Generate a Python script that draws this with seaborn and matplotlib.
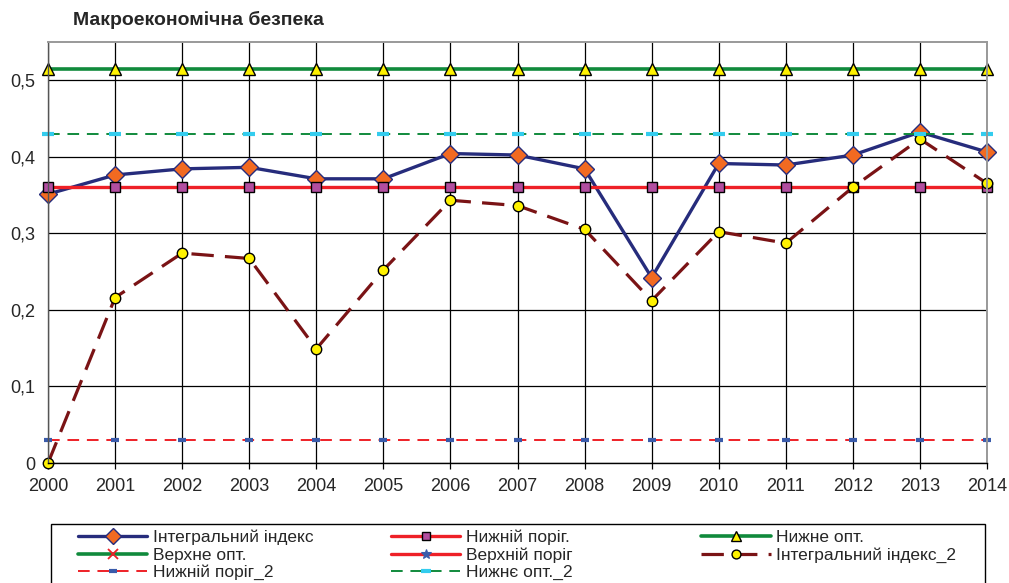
import numpy as np
import pandas as pd
import matplotlib
matplotlib.use("Agg")
import matplotlib.pyplot as plt
from matplotlib.patches import Rectangle
from matplotlib.ticker import FuncFormatter
import seaborn as sns

sns.set_theme(style="white")
plt.rcParams['font.family'] = ['Liberation Sans', 'DejaVu Sans']

# =============================
# Data
# =============================
years = [2000, 2001, 2002, 2003, 2004, 2005, 2006, 2007,
         2008, 2009, 2010, 2011, 2012, 2013, 2014]

integral_index = [0.351, 0.376, 0.384, 0.386, 0.371, 0.371, 0.404, 0.402,
                  0.384, 0.242, 0.391, 0.389, 0.402, 0.432, 0.406]
integral_index_2 = [0.0, 0.216, 0.274, 0.267, 0.149, 0.252, 0.343, 0.336,
                    0.305, 0.212, 0.302, 0.287, 0.360, 0.423, 0.365]

lower_threshold = [0.36, 0.36, 0.36, 0.36, 0.36, 0.36, 0.36, 0.36,
                   0.36, 0.36, 0.36, 0.36, 0.36, 0.36, 0.36]
lower_opt = [0.514, 0.514, 0.514, 0.514, 0.514, 0.514, 0.514, 0.514,
             0.514, 0.514, 0.514, 0.514, 0.514, 0.514, 0.514]
lower_threshold_2 = [0.03, 0.03, 0.03, 0.03, 0.03, 0.03, 0.03, 0.03,
                     0.03, 0.03, 0.03, 0.03, 0.03, 0.03, 0.03]
lower_opt_2 = [0.43, 0.43, 0.43, 0.43, 0.43, 0.43, 0.43, 0.43,
               0.43, 0.43, 0.43, 0.43, 0.43, 0.43, 0.43]
# series that only show up in the legend
upper_opt = []
upper_threshold = []

y_ticks = [0, 0.1, 0.2, 0.3, 0.4, 0.5]

labels = ["Інтегральний індекс", "Нижній поріг.", "Нижне опт.",
          "Верхне опт.", "Верхній поріг", "Інтегральний індекс_2",
          "Нижній поріг_2", "Нижнє опт._2"]

# colours
NAVY = '#262C7C'
ORANGE = '#F26A21'
RED = '#EE2027'
PURPLE = '#B24EA0'
GREEN = '#108A3C'
YELLOW = '#FFF200'
DARKRED = '#7A1315'
CYAN = '#33CCEE'
BLUE = '#3A5BAA'

# =============================
# Figure
# =============================
fig = plt.figure(figsize=(10.09, 5.83), dpi=100)
ax = fig.add_axes([0.0476, 0.2058, 0.9306, 0.7227])

handles = []

sns.lineplot(x=years, y=integral_index, ax=ax, color=NAVY, linewidth=2.4,
             marker='D', markersize=9, markerfacecolor=ORANGE,
             markeredgecolor=NAVY, markeredgewidth=1.0, clip_on=False)
handles.append(ax.lines[-1])

sns.lineplot(x=years, y=lower_threshold, ax=ax, color=RED, linewidth=2.4,
             marker='s', markersize=6.5, markerfacecolor=PURPLE,
             markeredgecolor='black', markeredgewidth=1.0, clip_on=False)
handles.append(ax.lines[-1])

sns.lineplot(x=years, y=lower_opt, ax=ax, color=GREEN, linewidth=2.6,
             marker='^', markersize=9, markerfacecolor=YELLOW,
             markeredgecolor='black', markeredgewidth=1.0, clip_on=False)
handles.append(ax.lines[-1])

h, = ax.plot(upper_opt, upper_opt, color=GREEN, linewidth=2.6, marker='x',
             markersize=8, markeredgecolor=RED, markeredgewidth=1.3)
handles.append(h)

h, = ax.plot(upper_threshold, upper_threshold, color=RED, linewidth=2.4,
             marker='*', markersize=9, markeredgecolor=BLUE,
             markerfacecolor=BLUE, markeredgewidth=0.8)
handles.append(h)

sns.lineplot(x=years, y=integral_index_2, ax=ax, color=DARKRED, linewidth=2.3,
             linestyle=(0, (7, 3.5)), marker='o', markersize=7.5,
             markerfacecolor=YELLOW, markeredgecolor='black',
             markeredgewidth=1.0, clip_on=False)
handles.append(ax.lines[-1])

sns.lineplot(x=years, y=lower_threshold_2, ax=ax, color=RED, linewidth=1.4,
             linestyle=(0, (6, 4)), marker='_', markersize=6,
             markeredgecolor=BLUE, markeredgewidth=3, clip_on=False)
handles.append(ax.lines[-1])

sns.lineplot(x=years, y=lower_opt_2, ax=ax, color=GREEN, linewidth=1.4,
             linestyle=(0, (6, 4)), marker='_', markersize=9,
             markeredgecolor=CYAN, markeredgewidth=3, clip_on=False)
handles.append(ax.lines[-1])

# axes styling
ax.set_xlim(years[0], years[-1])
ax.set_ylim(0, 0.55)
ax.set_xticks(years)
ax.set_yticks(y_ticks)
ax.yaxis.set_major_formatter(FuncFormatter(
    lambda v, p: '0' if v == 0 else f"{v:.1f}".replace('.', ',')))
ax.set_axisbelow(True)
ax.grid(True, color='black', linewidth=0.9)
ax.tick_params(axis='x', length=4.5, width=0.9, color='black', pad=6,
               labelsize=13, bottom=True)
ax.tick_params(axis='y', length=0, pad=9, labelsize=13)
for s in ['top', 'right']:
    ax.spines[s].set_color('#999999')
    ax.spines[s].set_linewidth(1.4)
ax.spines['left'].set_color('#555555')
ax.spines['left'].set_linewidth(1.0)
ax.spines['bottom'].set_color('black')
ax.spines['bottom'].set_linewidth(1.0)
ax.set_xlabel('')
ax.set_ylabel('')

fig.text(0.0723, 0.9657, "Макроекономічна безпека", fontsize=14,
         fontweight='bold', ha='left', va='center')

# legend: framed box across the bottom, three columns row by row
fig.patches.append(Rectangle((0.0505, -0.02), 0.9257, 0.1212,
                             transform=fig.transFigure, fill=False,
                             edgecolor='black', linewidth=1.0))
col_x = [0.0773, 0.3875, 0.695]
for c in range(3):
    idx = list(range(c, len(labels), 3))
    fig.legend([handles[i] for i in idx], [labels[i] for i in idx],
               loc='upper left', bbox_to_anchor=(col_x[c], 0.091),
               frameon=False, fontsize=12.5, borderpad=0,
               borderaxespad=0, handlelength=4.0, handletextpad=0.3,
               labelspacing=0.12, numpoints=1, markerscale=0.85)

fig.savefig("out.png", dpi=100)
